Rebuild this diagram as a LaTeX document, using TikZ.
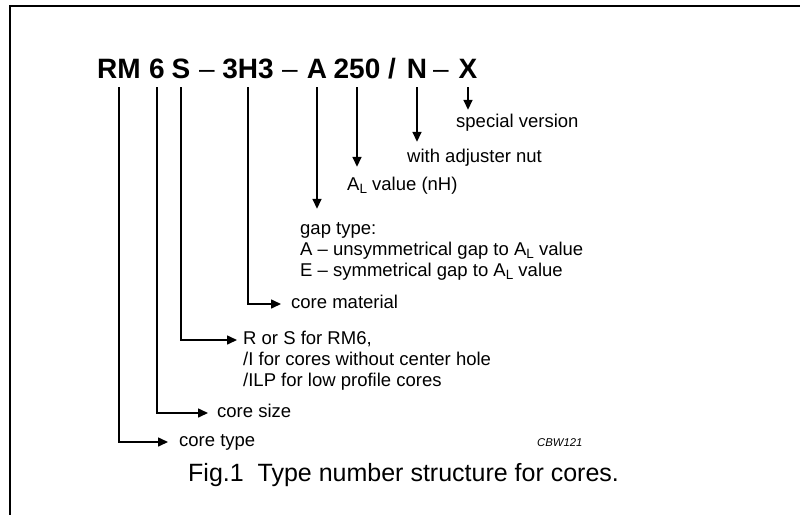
\documentclass[tikz,border=0pt]{standalone}
\usepackage{fontspec}
\setmainfont{Liberation Sans}
\usetikzlibrary{arrows.meta}
\newcommand{\subL}{\raisebox{-3.5pt}{\fontsize{13.5}{14}\selectfont L}}
\tikzset{
  tpart/.style={font=\fontsize{28}{30}\selectfont\bfseries, inner sep=0pt, anchor=base, text depth=0pt},
  tdash/.style={font=\fontsize{28}{30}\selectfont, inner sep=0pt, anchor=base, text depth=0pt},
  lbl/.style={font=\fontsize{18.5}{21}\selectfont, inner sep=0pt, text height=13pt, text depth=4pt},
  link/.style={line width=1.6pt, -{Triangle[length=10pt,width=9pt]}},
  frame/.style={line width=1.5pt}
}
\begin{document}
\begin{tikzpicture}[x=1pt,y=-1pt]
\useasboundingbox (0,0) rectangle (800,514);
\draw[frame] (10,520) -- (10,6) -- (806,6);
% title pieces
\node[tpart] (rm)  at (119,78) {RM};
\node[tpart] (six) at (157,78) {6};
\node[tpart] (s)   at (181,78) {S};
\node[tdash] (d1)  at (207,78) {\textendash};
\node[tpart] (mat) at (248,78) {3H3};
\node[tdash] (d2)  at (290,78) {\textendash};
\node[tpart] (a)   at (317,78) {A};
\node[tpart] (al)  at (357,78) {250};
\node[tpart] (sl)  at (392,78) {/};
\node[tpart] (n)   at (417,78) {N};
\node[tdash] (d3)  at (441,78) {\textendash};
\node[tpart] (x)   at (468,78) {X};
% vertical labels
\node[lbl, anchor=base west] (spv) at (456,127) {special version};
\node[lbl, anchor=base west] (nut) at (407,162) {with adjuster nut};
\node[lbl, anchor=base west] (alv) at (347,190) {A\subL{} value (nH)};
\node[lbl, anchor=base west] (gap) at (300,234) {gap type:};
\node[lbl, anchor=base west] (gapa) at (300,255) {A \textendash{} unsymmetrical gap to A\subL{} value};
\node[lbl, anchor=base west] (gape) at (300,276) {E \textendash{} symmetrical gap to A\subL{} value};
% horizontal labels
\node[lbl, anchor=west] (cmat) at (291,304) {core material};
\node[lbl, anchor=west] (rs)   at (243,340) {R or S for RM6,};
\node[lbl, anchor=base west] (rs2) at (243,365.5) {/I for cores without center hole};
\node[lbl, anchor=base west] (rs3) at (243,386) {/ILP for low profile cores};
\node[lbl, anchor=west] (csize) at (217,413) {core size};
\node[lbl, anchor=west] (ctype) at (179,442) {core type};
\node[font=\fontsize{11.3}{13}\selectfont\itshape, inner sep=0pt, anchor=base west] (code) at (537,446) {CBW121};
\node[font=\fontsize{25}{28}\selectfont, inner sep=0pt, anchor=base west] (cap) at (188,481) {Fig.1\ \ Type number structure for cores.};
% connectors
\draw[link, shorten <=9pt, shorten >=4pt] (x.south) -- (x.south |- spv.north);
\draw[link, shorten <=9pt, shorten >=7pt] (n.south) -- (n.south |- nut.north);
\draw[link, shorten <=9pt, shorten >=10pt] (al.south) -- (al.south |- alv.north);
\draw[link, shorten <=9pt, shorten >=12pt] (a.south) -- (a.south |- gap.north);
\draw[link, shorten <=9pt, shorten >=10pt] (mat.south) |- (cmat.west);
\draw[link, shorten <=9pt, shorten >=6pt] (s.south) |- (rs.west);
\draw[link, shorten <=9pt, shorten >=9pt] (six.south) |- (csize.west);
\draw[link, shorten <=9pt, shorten >=11pt] (rm.south) |- (ctype.west);
\end{tikzpicture}
\end{document}
